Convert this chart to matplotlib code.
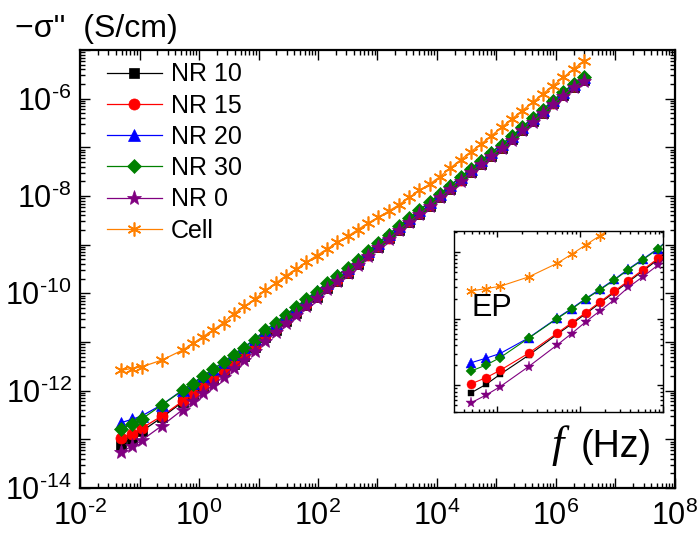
import numpy as np
import matplotlib
matplotlib.use('Agg')
import matplotlib.pyplot as plt
from matplotlib.ticker import LogLocator, FuncFormatter, NullFormatter

plt.rcParams['font.family'] = ['Liberation Sans', 'DejaVu Sans']
plt.rcParams['mathtext.fontset'] = 'custom'
plt.rcParams['mathtext.rm'] = 'Liberation Sans'
plt.rcParams['mathtext.it'] = 'Liberation Sans:italic'

# frequency (Hz)
freq = [0.049, 0.074, 0.109, 0.24, 0.53, 0.79, 1.17, 1.74, 2.6, 3.8, 5.7, 8.7,
        13, 19.4, 28.8, 43, 64, 95, 142, 211, 314, 467,
        696, 1036, 1540, 2290, 3410, 5080, 7560, 11250, 16740, 24920,
        37080, 55200, 82200, 122300, 182000, 271000, 403000, 600000, 893000,
        1330000, 1980000, 2950000]

# -sigma'' (S/cm)
nr10 = [7.80e-14, 1.04e-13, 1.47e-13, 2.84e-13, 5.85e-13, 8.36e-13, 1.19e-12, 1.73e-12,
        2.51e-12, 3.57e-12, 5.24e-12, 7.75e-12, 1.25e-11, 1.80e-11, 2.74e-11, 3.91e-11,
        5.88e-11, 8.51e-11, 1.29e-10, 1.83e-10, 2.68e-10, 4.01e-10, 6.02e-10, 8.93e-10,
        1.34e-9, 1.99e-9, 2.97e-9, 4.34e-9, 6.34e-9, 9.41e-9, 1.40e-8, 2.09e-8,
        3.12e-8, 4.62e-8, 6.74e-8, 9.89e-8, 1.46e-7, 2.26e-7, 3.45e-7, 5.13e-7,
        7.97e-7, 1.18e-6, 1.75e-6, 2.40e-6]
nr15 = [1.06e-13, 1.31e-13, 1.69e-13, 3.05e-13, 6.10e-13, 8.71e-13, 1.24e-12, 1.80e-12,
        2.61e-12, 3.72e-12, 5.46e-12, 8.07e-12, 1.30e-11, 1.88e-11, 2.85e-11, 4.07e-11,
        6.13e-11, 8.86e-11, 1.34e-10, 1.91e-10, 2.79e-10, 4.18e-10, 6.27e-10, 9.30e-10,
        1.40e-9, 2.07e-9, 3.09e-9, 4.52e-9, 6.60e-9, 9.80e-9, 1.46e-8, 2.18e-8,
        3.25e-8, 4.81e-8, 7.02e-8, 1.03e-7, 1.52e-7, 2.35e-7, 3.59e-7, 5.34e-7,
        8.30e-7, 1.23e-6, 1.82e-6, 2.50e-6]
nr20 = [2.20e-13, 2.57e-13, 3.02e-13, 5.19e-13, 1.03e-12, 1.43e-12, 2.02e-12, 2.79e-12,
        3.93e-12, 5.58e-12, 7.88e-12, 1.14e-11, 1.76e-11, 2.50e-11, 3.70e-11, 5.24e-11,
        7.80e-11, 1.11e-10, 1.66e-10, 2.35e-10, 3.39e-10, 5.01e-10, 7.43e-10, 1.10e-9,
        1.64e-9, 2.43e-9, 3.58e-9, 5.24e-9, 7.56e-9, 1.12e-8, 1.67e-8, 2.47e-8,
        3.67e-8, 5.44e-8, 7.94e-8, 1.16e-7, 1.71e-7, 2.63e-7, 4.02e-7, 5.98e-7,
        9.28e-7, 1.38e-6, 2.04e-6, 2.80e-6]
nr30 = [1.65e-13, 2.03e-13, 2.62e-13, 5.13e-13, 1.01e-12, 1.40e-12, 1.98e-12, 2.73e-12,
        3.85e-12, 5.46e-12, 7.71e-12, 1.12e-11, 1.73e-11, 2.45e-11, 3.63e-11, 5.13e-11,
        7.64e-11, 1.09e-10, 1.63e-10, 2.30e-10, 3.32e-10, 4.91e-10, 7.28e-10, 1.08e-9,
        1.61e-9, 2.38e-9, 3.51e-9, 5.13e-9, 7.41e-9, 1.10e-8, 1.64e-8, 2.42e-8,
        3.60e-8, 5.33e-8, 7.78e-8, 1.14e-7, 1.68e-7, 2.58e-7, 3.94e-7, 5.86e-7,
        9.10e-7, 1.35e-6, 2.00e-6, 2.74e-6]
nr0 = [5.51e-14, 7.19e-14, 9.59e-14, 1.92e-13, 4.06e-13, 6.01e-13, 9.02e-13, 1.32e-12,
       1.95e-12, 2.96e-12, 4.29e-12, 6.43e-12, 1.07e-11, 1.58e-11, 2.42e-11, 3.55e-11,
       5.47e-11, 7.99e-11, 1.22e-10, 1.76e-10, 2.61e-10, 3.90e-10, 5.85e-10, 8.78e-10,
       1.32e-9, 1.98e-9, 2.92e-9, 4.31e-9, 6.23e-9, 9.36e-9, 1.40e-8, 2.06e-8,
       3.06e-8, 4.54e-8, 6.62e-8, 9.70e-8, 1.43e-7, 2.22e-7, 3.39e-7, 5.05e-7,
       7.84e-7, 1.16e-6, 1.72e-6, 2.36e-6]
cell = [2.63e-12, 2.85e-12, 3.09e-12, 4.27e-12, 6.84e-12, 9.33e-12, 1.29e-11, 1.78e-11,
        2.51e-11, 3.80e-11, 5.37e-11, 7.59e-11, 1.15e-10, 1.62e-10, 2.29e-10, 3.16e-10,
        4.37e-10, 5.96e-10, 8.13e-10, 1.11e-9, 1.48e-9, 2.04e-9, 2.79e-9, 3.63e-9,
        4.90e-9, 6.61e-9, 9.33e-9, 1.30e-8, 1.77e-8, 2.50e-8, 3.78e-8, 5.51e-8,
        8.17e-8, 1.17e-7, 1.74e-7, 2.58e-7, 3.83e-7, 5.68e-7, 8.39e-7, 1.25e-6,
        1.85e-6, 2.74e-6, 4.07e-6, 6.03e-6]

labels = ['NR 10', 'NR 15', 'NR 20', 'NR 30', 'NR 0', 'Cell']
series = [nr10, nr15, nr20, nr30, nr0, cell]
colors = ['black', '#FF0000', '#0000FF', '#008000', '#800080', '#FF8000']
markers = ['s', 'o', '^', 'D', '*', (6, 2, 0)]
msizes = [6.5, 8, 8.5, 7.5, 11, 10]
small = [5, 6.5, 7, 5.5, 8, 7.5]


def style_log_axes(ax, lw):
    for sp in ax.spines.values():
        sp.set_linewidth(lw)
    ax.xaxis.set_major_locator(LogLocator(base=10, numticks=30))
    ax.yaxis.set_major_locator(LogLocator(base=10, numticks=30))
    ax.xaxis.set_minor_locator(LogLocator(base=10, subs=np.arange(2, 10), numticks=30))
    ax.yaxis.set_minor_locator(LogLocator(base=10, subs=np.arange(2, 10), numticks=30))
    ax.tick_params(which='both', direction='in', top=True, right=True, width=1)
    ax.xaxis.set_minor_formatter(NullFormatter())
    ax.yaxis.set_minor_formatter(NullFormatter())


def even_decades(v, pos):
    e = int(round(np.log10(v)))
    if e % 2:
        return ''
    exp = str(e).replace('-', r'\text{-}')
    return r'$\mathregular{10^{%s}}$' % exp


fig = plt.figure(figsize=(6.97, 5.33), dpi=100)
ax = fig.add_axes([0.1148, 0.0844, 0.8536, 0.8218])

for y, lab, c, m, ms in zip(series, labels, colors, markers, msizes):
    ax.plot(freq, y, color=c, marker=m, markersize=ms, lw=0.9, label=lab,
            markeredgewidth=1.2 if lab == 'Cell' else 0.5)

ax.set_xscale('log')
ax.set_yscale('log')
ax.set_xlim(1e-2, 1e8)
ax.set_ylim(1e-14, 1e-5)
style_log_axes(ax, 1.6)
ax.tick_params(which='major', length=7, labelsize=22)
ax.tick_params(axis='x', which='major', pad=9)
ax.tick_params(axis='y', which='major', pad=6)
ax.tick_params(which='minor', length=3.5)
ax.xaxis.set_major_formatter(FuncFormatter(even_decades))
ax.yaxis.set_major_formatter(FuncFormatter(even_decades))

ax.legend(loc='upper left', bbox_to_anchor=(0.02, 1.006), frameon=False,
          fontsize=18, handlelength=2.2, handletextpad=0.35, labelspacing=0.29,
          borderaxespad=0.2)

fig.text(0.0215, 0.93, "\u2212\u03c3''  (S/cm)", fontsize=23, ha='left', va='baseline')
fig.text(0.791, 0.1426, 'f', fontsize=32, family='Liberation Serif', style='italic',
         ha='left', va='baseline')
fig.text(0.833, 0.1426, '(Hz)', fontsize=27, ha='left', va='baseline')

# inset: low-frequency region
ins = fig.add_axes([0.6514, 0.227, 0.2998, 0.3396])
for y, lab, c, m, ms in zip(series, labels, colors, markers, small):
    ins.plot(freq, y, color=c, marker=m, markersize=ms, lw=0.8,
             markeredgewidth=1.0 if lab == 'Cell' else 0.3)
ins.set_xscale('log')
ins.set_yscale('log')
ins.set_xlim(10 ** -1.52, 10 ** 1.0)
ins.set_ylim(10 ** -13.4, 10 ** -10.68)
style_log_axes(ins, 1.0)
ins.tick_params(which='major', length=4)
ins.tick_params(which='minor', length=2)
ins.xaxis.set_major_formatter(NullFormatter())
ins.yaxis.set_major_formatter(NullFormatter())
ins.text(0.677, 0.407, 'EP', fontsize=22, transform=fig.transFigure,
         ha='left', va='baseline')

fig.savefig('out.png', dpi=100)
